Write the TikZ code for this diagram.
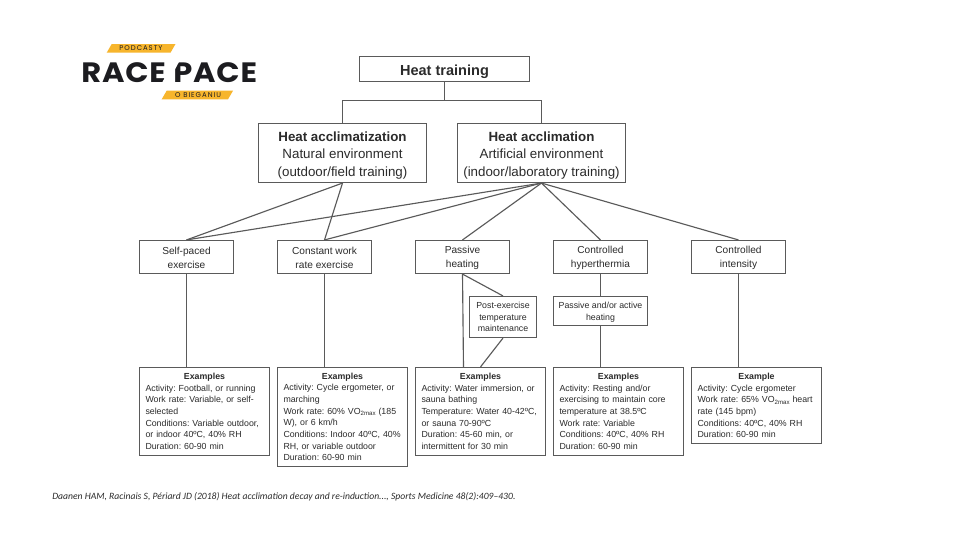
\documentclass[tikz,border=0pt]{standalone}
\usepackage{fontspec}
\setmainfont{Liberation Sans}
\newfontfamily\logofont[LetterSpace=3,FakeStretch=1.09]{Poppins}
\newfontfamily\tagfont[LetterSpace=14]{Poppins}
\newfontfamily\citefont{Carlito}
\newcommand{\vosub}{\raisebox{-0.35ex}{\fontsize{4.6}{5}\selectfont 2max}}
\newcommand{\exhead}[1]{\makebox[88.5pt][c]{\bfseries #1}}
\newcommand{\lift}[1]{\rule{0pt}{#1}}
\definecolor{inkc}{HTML}{2B2B2B}
\definecolor{linec}{HTML}{5A5A5A}
\definecolor{logoy}{HTML}{F7B52C}
\definecolor{logok}{HTML}{1C1C20}
\tikzset{
  x=0.75pt,y=-0.75pt,
  boxsize/.style 2 args={minimum width=#1*0.75pt,minimum height=#2*0.75pt},
  basebox/.style={draw=linec,line width=0.85pt,fill=white,text=inkc,inner sep=0pt,align=center},
  topbox/.style={basebox,font=\frenchspacing\fontsize{10}{13.1}\selectfont},
  catbox/.style={basebox,boxsize={94}{33},font=\fontsize{7.6}{10}\selectfont},
  subbox/.style={basebox,font=\fontsize{6.6}{8.75}\selectfont},
  exbox/.style={basebox,text width=88.5pt,inner xsep=4.5pt,align=left,font=\frenchspacing\fontsize{6.6}{8.75}\selectfont},
  link/.style={draw=linec,line width=0.85pt},
  tagband/.style={fill=logoy,draw=none},
}
\begin{document}
\begin{tikzpicture}
\useasboundingbox (0,0) rectangle (960,540);
\fill[white] (0,0) rectangle (960,540);

% logo
\fill[tagband] (111.7,44) -- (175.5,44) -- (170.5,52.7) -- (106.7,52.7) -- cycle;
\fill[tagband] (166.7,90.7) -- (233,90.7) -- (228,99.3) -- (161.7,99.3) -- cycle;
\node[inner sep=0pt,text=logok,font=\tagfont\fontsize{5.2}{6}\selectfont] (podc) at (141,48.5) {PODCASTY};
\node[inner sep=0pt,text=logok,font=\tagfont\fontsize{5.2}{6}\selectfont] (obieg) at (198,95) {O BIEGANIU};
\node[inner sep=0pt,text=logok,font=\logofont\bfseries\fontsize{21}{24}\selectfont] (logo) at (169.2,72.3) {RACE PACE};
\fill[white] (161.5,83.5) -- (165.5,76.5) -- (170,76.5) -- (170,83.5) -- cycle;
\fill[white] (173,61) -- (179.5,61) -- (173,73) -- cycle;

\node[basebox,boxsize={170}{25},font=\fontsize{10.9}{14}\selectfont\bfseries] (train) at (444.5,69) {\lift{12.4pt}Heat training};
\node[topbox,boxsize={168}{59}] (natural) at (342.5,153) {\lift{11pt}{\bfseries Heat acclimatization}\\Natural environment\\(outdoor/field training)};
\node[topbox,boxsize={168}{59}] (artif) at (541.5,153) {\lift{11pt}{\bfseries Heat acclimation}\\Artificial environment\\(indoor/laboratory training)};

\node[catbox] (selfp) at (186.5,257) {\lift{7pt}Self-paced\\exercise};
\node[catbox] (const) at (324.5,257) {\lift{7pt}Constant work\\rate exercise};
\node[catbox] (pass) at (462.5,257) {\lift{7pt}Passive\\heating};
\node[catbox] (hyper) at (600.5,257) {\lift{7pt}Controlled\\hyperthermia};
\node[catbox] (inten) at (738.5,257) {\lift{7pt}Controlled\\intensity};

\node[subbox,boxsize={67}{41}] (post) at (503,317) {Post-exercise\\temperature\\maintenance};
\node[subbox,boxsize={94}{29}] (active) at (600.5,311) {\lift{7pt}Passive and/or active\\heating};

\node[exbox,minimum height=88*0.75pt] (ex1) at (204.5,411.5) {\exhead{Examples}\\Activity: Football, or running\\Work rate: Variable, or self-\\selected\\Conditions: Variable outdoor,\\or indoor 40ºC, 40\% RH\\Duration: 60-90 min};
\node[exbox,minimum height=99*0.75pt] (ex2) at (342.5,417) {\exhead{Examples}\\Activity: Cycle ergometer, or\\marching\\Work rate: 60\% VO\vosub{} (185\\W), or 6 km/h\\Conditions: Indoor 40ºC, 40\%\\RH, or variable outdoor\\Duration: 60-90 min};
\node[exbox,minimum height=88*0.75pt] (ex3) at (480.5,411.5) {\exhead{Examples}\\Activity: Water immersion, or\\sauna bathing\\Temperature: Water 40-42ºC,\\or sauna 70-90ºC\\Duration: 45-60 min, or\\intermittent for 30 min};
\node[exbox,minimum height=88*0.75pt] (ex4) at (618.5,411.5) {\exhead{Examples}\\Activity: Resting and/or\\exercising to maintain core\\temperature at 38.5ºC\\Work rate: Variable\\Conditions: 40ºC, 40\% RH\\Duration: 60-90 min};
\node[exbox,minimum height=76*0.75pt] (ex5) at (756.5,405.5) {\exhead{Example}\\Activity: Cycle ergometer\\Work rate: 65\% VO\vosub{} heart\\rate (145 bpm)\\Conditions: 40ºC, 40\% RH\\Duration: 60-90 min};

\coordinate (fork) at (444.5,100.5);
\coordinate (forkl) at (342.5,100.5);
\coordinate (forkr) at (541.5,100.5);
\coordinate (ex1in) at (186.5,367.5);
\coordinate (ex2in) at (324.5,367.5);
\coordinate (ex3in) at (463.5,367.5);
\coordinate (ex4in) at (600.5,367.5);
\coordinate (ex5in) at (738.5,367.5);

\draw[link] (train.south) -- (fork);
\draw[link] (natural.north) -- (forkl) -- (forkr) -- (artif.north);
\draw[link] (natural.south) -- (selfp.north);
\draw[link] (natural.south) -- (const.north);
\draw[link] (artif.south) -- (selfp.north);
\draw[link] (artif.south) -- (const.north);
\draw[link] (artif.south) -- (pass.north);
\draw[link] (artif.south) -- (hyper.north);
\draw[link] (artif.south) -- (inten.north);
\draw[link] (selfp.south) -- (ex1in);
\draw[link] (const.south) -- (ex2in);
\draw[link] (pass.south) -- (ex3in);
\draw[link] (pass.south) -- (post.north);
\draw[link] (post.south) -- (ex3.north);
\draw[link] (hyper.south) -- (active.north);
\draw[link] (active.south) -- (ex4in);
\draw[link] (inten.south) -- (ex5in);

\node[anchor=west,inner sep=0pt,text=inkc,font=\citefont\itshape\fontsize{7.23}{8}\selectfont] (cite) at (52,496.5) {Daanen HAM, Racinais S, Périard JD (2018) Heat acclimation decay and re-induction..., Sports Medicine 48(2):409–430.};
\end{tikzpicture}
\end{document}
